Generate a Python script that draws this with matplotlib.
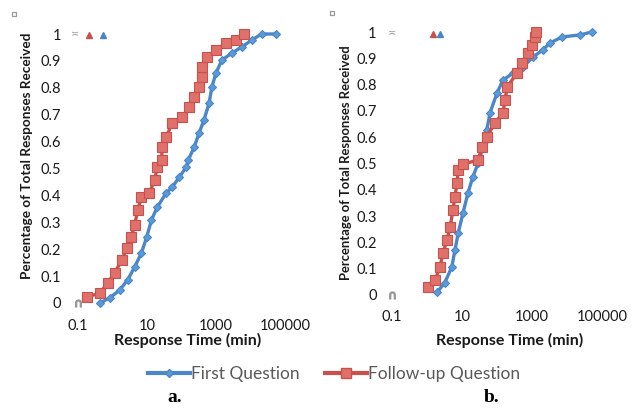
import matplotlib
matplotlib.use("Agg")
import matplotlib.pyplot as plt
from matplotlib.lines import Line2D

plt.rcParams["font.family"] = ["Lato", "DejaVu Sans"]

# response times (minutes) and cumulative share
# panel a
first_a_t = [0.43, 0.83, 1.62, 2.75, 4.4, 6.9, 9.8, 13.5, 20, 36, 54, 87, 138, 158,
             234, 324, 447, 631, 759, 1000, 1480, 2880, 5620, 11000, 20900, 53700]
first_a_p = [0.0, 0.019, 0.048, 0.086, 0.134, 0.186, 0.245, 0.309, 0.357, 0.409, 0.431,
             0.468, 0.506, 0.532, 0.58, 0.632, 0.68, 0.743, 0.803, 0.855, 0.903, 0.929,
             0.952, 0.978, 1.0, 1.0]
follow_a_t = [0.18, 0.43, 0.72, 1.15, 1.86, 2.6, 3.5, 4.4, 5.4, 6.9, 11.7, 16.6, 20, 27,
              27, 36, 54, 105, 166, 234, 324, 398, 398, 550, 1000, 1950, 3800, 6460]
follow_a_p = [0.022, 0.037, 0.074, 0.112, 0.16, 0.204, 0.245, 0.29, 0.346, 0.394, 0.409,
              0.457, 0.506, 0.532, 0.58, 0.617, 0.669, 0.691, 0.729, 0.766, 0.803, 0.84,
              0.877, 0.914, 0.941, 0.967, 0.978, 1.0]

# panel b
first_b_t = [1.95, 3.2, 5.1, 6.3, 7.8, 10.7, 14.8, 20.4, 29, 40, 51, 63, 100, 148, 288,
             550, 1070, 2040, 3240, 7240, 23400, 51300]
first_b_p = [0.011, 0.046, 0.106, 0.171, 0.236, 0.312, 0.388, 0.449, 0.502, 0.563, 0.627,
             0.692, 0.768, 0.817, 0.844, 0.867, 0.905, 0.932, 0.958, 0.981, 0.989, 1.0]
follow_b_t = [1.07, 1.7, 2.34, 2.88, 3.7, 4.6, 5.5, 6.3, 7.2, 7.8, 10.7, 29, 37, 51, 87,
              148, 170, 195, 372, 513, 776, 1000, 1230, 1290]
follow_b_p = [0.03, 0.057, 0.106, 0.16, 0.209, 0.259, 0.323, 0.373, 0.426, 0.475, 0.498,
              0.513, 0.563, 0.601, 0.654, 0.692, 0.741, 0.791, 0.844, 0.882, 0.92, 0.951,
              0.981, 1.0]

x_ticks = [0.1, 10, 1000, 100000]
x_tick_labels = ["0.1", "10", "1000", "100000"]
y_ticks = [0, 0.1, 0.2, 0.3, 0.4, 0.5, 0.6, 0.7, 0.8, 0.9, 1]
y_tick_labels = ["0", "0.1", "0.2", "0.3", "0.4", "0.5", "0.6", "0.7", "0.8", "0.9", "1"]

BLUE = "#4a86c8"
BLUE_FACE = "#5b9ad8"
RED = "#c9504c"
RED_FACE = "#e0706a"
W, H = 631, 408

fig = plt.figure(figsize=(6.31, 4.08), dpi=100)


def frac(x0, x1, y_top, y_bot):
    return [x0 / W, 1 - y_bot / H, (x1 - x0) / W, (y_bot - y_top) / H]


def draw_panel(rect, first_t, first_p, follow_t, follow_p, ylab_xy, ylab_size,
               xlab_xy, ypad, xpad):
    ax = fig.add_axes(rect)
    ax.set_xscale("log")
    ax.plot(first_t, first_p, color=BLUE, lw=2.4, marker="D", ms=4.5,
            mfc=BLUE_FACE, mec=BLUE, mew=0.8, clip_on=False, zorder=3)
    ax.plot(follow_t, follow_p, color=RED, lw=2.4, marker="s", ms=6.8,
            mfc=RED_FACE, mec=RED, mew=0.8, clip_on=False, zorder=4)
    # stray grey point at the origin
    ax.plot([0.1], [0], marker=r"$\cap$", ms=5, color="#999999", ls="none", clip_on=False)
    ax.set_xlim(0.1, 100000)
    ax.set_ylim(0, 1)
    ax.set_xticks(x_ticks)
    ax.set_xticklabels(x_tick_labels)
    ax.minorticks_off()
    ax.set_yticks(y_ticks)
    ax.set_yticklabels(y_tick_labels)
    ax.tick_params(length=0, labelsize=10.5, labelcolor="#1a1a1a")
    ax.tick_params(axis="y", pad=ypad)
    ax.tick_params(axis="x", pad=xpad)
    for s in ax.spines.values():
        s.set_visible(False)
    ax.set_ylabel("Percentage of Total Responses Received", fontsize=ylab_size,
                  fontweight="bold", color="#1a1a1a")
    ax.yaxis.set_label_coords(*ylab_xy)
    ax.set_xlabel("Response Time (min)", fontsize=11.5, fontweight="bold", color="#1a1a1a")
    ax.xaxis.set_label_coords(*xlab_xy)
    return ax


ax_a = draw_panel(frac(78, 285, 34, 303), first_a_t, first_a_p, follow_a_t, follow_a_p,
                  (-0.217, 0.548), 9.8, (0.53, -0.112), 12, 11.5)
ax_b = draw_panel(frac(392, 602, 32, 295), first_b_t, first_b_p, follow_b_t, follow_b_p,
                  (-0.19, 0.504), 9.4, (0.562, -0.144), 11, 10.5)


# little leftover legend glyphs from the source chart
def glyphs(sq_xy, gray_xy, red_xy, blue_xy):
    fig.add_artist(Line2D([sq_xy[0] / W], [1 - sq_xy[1] / H], marker="s", ms=3.5,
                          mfc="white", mec="#999999", mew=0.9, ls="none"))
    fig.text(gray_xy[0] / W, 1 - gray_xy[1] / H, "\u224d", fontsize=7, color="#999999",
             ha="center", va="center", family="DejaVu Sans")
    fig.add_artist(Line2D([red_xy[0] / W], [1 - red_xy[1] / H], marker="^", ms=5,
                          color=RED, ls="none"))
    fig.add_artist(Line2D([blue_xy[0] / W], [1 - blue_xy[1] / H], marker="^", ms=5,
                          color=BLUE, ls="none"))


glyphs((14, 14), (75, 34), (89, 35), (103, 35))
glyphs((332, 13), (392, 33), (433, 34), (440, 34))

handles = [
    Line2D([], [], color=BLUE, lw=3, marker="D", ms=4.5, mfc=BLUE_FACE, mec=BLUE),
    Line2D([], [], color=RED, lw=3, marker="s", ms=6.5, mfc=RED_FACE, mec=RED),
]
fig.legend(handles, ["First Question", "Follow-up Question"], loc="center",
           bbox_to_anchor=(334 / W, 1 - 374 / H), ncol=2, frameon=False,
           fontsize=12.5, handlelength=2.4, handletextpad=0.05, columnspacing=1.5,
           labelcolor="#595959")

fig.text(175 / W, 1 - 397 / H, "a.", fontsize=14, fontweight="bold",
         family="Liberation Serif", ha="center", va="center")
fig.text(492 / W, 1 - 397 / H, "b.", fontsize=14, fontweight="bold",
         family="Liberation Serif", ha="center", va="center")

fig.savefig("out.png", dpi=100)
